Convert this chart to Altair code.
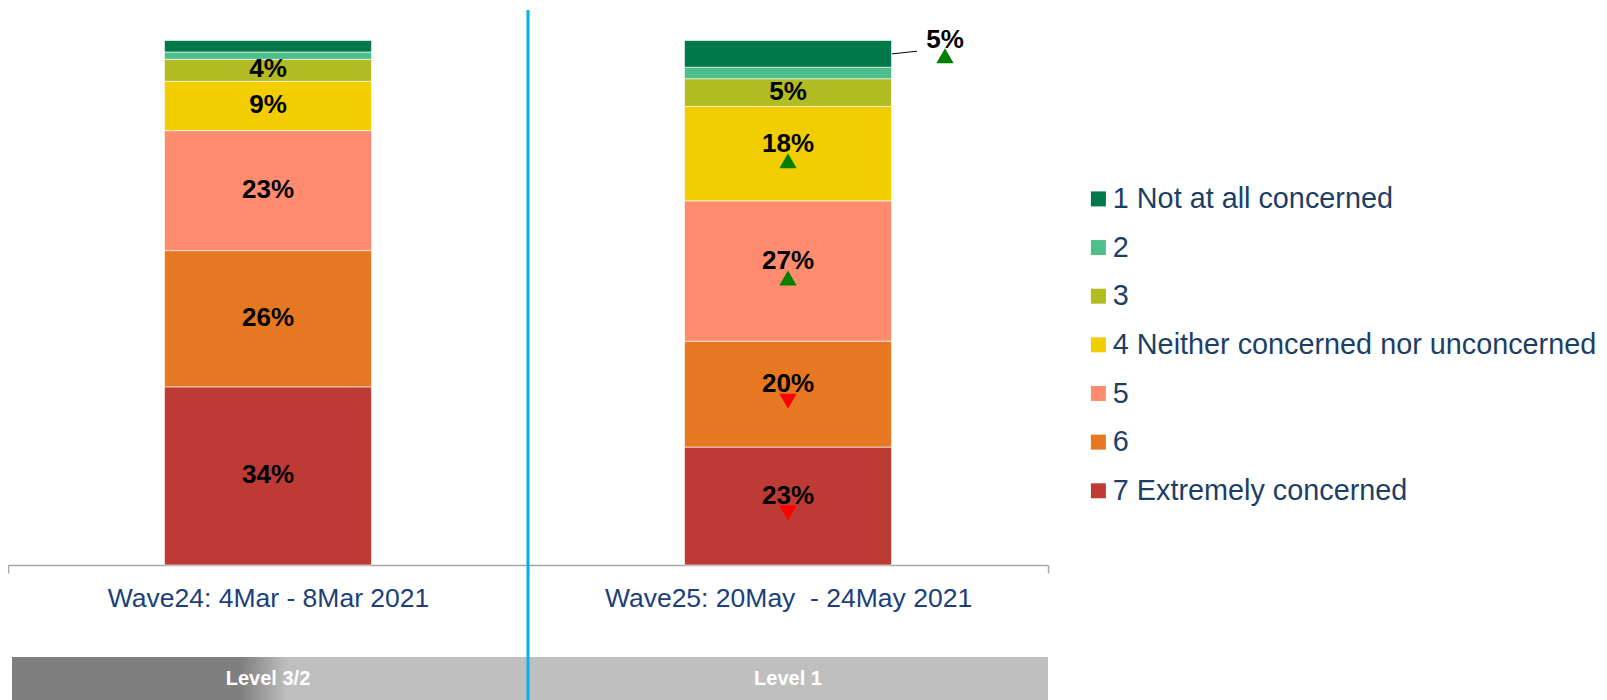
import altair as alt
import pandas as pd

# ---- data ----
waves = ["Wave24: 4Mar - 8Mar 2021", "Wave25: 20May\u00a0 - 24May 2021"]
levels = ["Level 3/2", "Level 1"]
categories = [
    "1 Not at all concerned",
    "2",
    "3",
    "4 Neither concerned nor unconcerned",
    "5",
    "6",
    "7 Extremely concerned",
]
colors = ["#00784A", "#4CBF8B", "#B0BC22", "#F2CD00", "#FF8C6E", "#E87722", "#BE3A35"]
wave24_values = [2.2, 1.4, 4.2, 9.4, 22.9, 26, 34]
wave25_values = [5.1, 2.2, 5.3, 18, 26.8, 20.2, 22.5]
wave24_labels = ["", "", "4%", "9%", "23%", "26%", "34%"]
wave25_labels = ["5%", "", "5%", "18%", "27%", "20%", "23%"]
wave24_change = ["", "", "", "", "", "", ""]
wave25_change = ["up", "", "", "up", "up", "down", "down"]

# ---- build table (stack bottom-up: 7 at the bottom) ----
rows = []
for wave, vals, labs, chg in [
    (waves[0], wave24_values, wave24_labels, wave24_change),
    (waves[1], wave25_values, wave25_labels, wave25_change),
]:
    base = 0.0
    for i in reversed(range(len(categories))):
        y0 = base
        y1 = base + vals[i]
        rows.append(
            dict(wave=wave, cat=categories[i], code=i + 1, value=vals[i],
                 y0=y0, y1=y1, mid=(y0 + y1) / 2, label=labs[i], change=chg[i])
        )
        base = y1
df = pd.DataFrame(rows)
lvl = pd.DataFrame({"wave": waves, "level": levels})

FONT = "Liberation Sans"
xscale = alt.Scale(domain=waves, paddingInner=0, paddingOuter=0)
yscale = alt.Scale(domain=[0, 106.3], nice=False)

xaxis = alt.Axis(labelFontSize=26.5, labelColor="#203F79", labelFont=FONT,
                 labelAngle=0, domainColor="#A6A6A6", tickColor="#A6A6A6",
                 domainWidth=1.5, tickWidth=1.5, tickSize=8,
                 tickBand="extent", labelPadding=12, labelLimit=600,
                 grid=False)
X = alt.X("wave:N", scale=xscale, title=None, axis=xaxis)
Y = lambda f: alt.Y(f, scale=yscale, axis=None)

base = alt.Chart(df)

bars = base.mark_bar(size=207, stroke="white", strokeWidth=0.6).encode(
    x=X,
    y=Y("y0:Q"),
    y2="y1:Q",
    color=alt.Color(
        "cat:N",
        scale=alt.Scale(domain=categories, range=colors),
        legend=alt.Legend(title=None, orient="none", legendX=1076, legendY=176.5,
                          symbolType="square", symbolSize=225, symbolStrokeWidth=0,
                          labelFontSize=28.8, labelColor="#1D3F66", labelFont=FONT,
                          rowPadding=18.65, labelOffset=0, padding=0, labelLimit=700),
    ),
)

txt_style = dict(fontSize=26, fontWeight="bold", font=FONT, color="black", baseline="middle")

plain_labels = base.transform_filter(
    "datum.label != '' && datum.code != 1 && datum.change == ''"
).mark_text(dy=-1, **txt_style).encode(x=X, y=Y("mid:Q"), text="label:N")

change_labels = base.transform_filter(
    "datum.label != '' && datum.code != 1 && datum.change != ''"
).mark_text(dy=-10, **txt_style).encode(x=X, y=Y("mid:Q"), text="label:N")

tri_fill = alt.condition("datum.change == 'up'", alt.value("#008000"), alt.value("#FF0000"))
tri_shape = alt.condition("datum.change == 'up'", alt.value("triangle-up"), alt.value("triangle-down"))

change_marks = base.transform_filter(
    "datum.change != '' && datum.code != 1"
).mark_point(filled=True, size=300, opacity=1, yOffset=7).encode(
    x=X, y=Y("mid:Q"), fill=tri_fill, shape=tri_shape)

out_label = base.transform_filter(
    "datum.label != '' && datum.code == 1"
).mark_text(dx=157, dy=-14, **txt_style).encode(x=X, y=Y("mid:Q"), text="label:N")

out_mark = base.transform_filter(
    "datum.change != '' && datum.code == 1"
).mark_point(filled=True, size=300, opacity=1, xOffset=157, yOffset=2).encode(
    x=X, y=Y("mid:Q"), fill=tri_fill, shape=tri_shape)

leader = base.transform_filter(
    "datum.label != '' && datum.code == 1"
).mark_rule(color="black", strokeWidth=1, xOffset=104, x2Offset=129, y2Offset=-2.6).encode(
    x=X, x2="wave:N", y=Y("mid:Q"), y2="mid:Q")

lbase = alt.Chart(lvl)

band_left = lbase.transform_filter(alt.datum.wave == waves[0]).mark_rect(
    xOffset=4,
    fill=alt.Gradient(gradient="linear", x1=0, x2=1, y1=0, y2=0,
                      stops=[alt.GradientStop(color="#7F7F7F", offset=0),
                             alt.GradientStop(color="#7F7F7F", offset=0.44),
                             alt.GradientStop(color="#BFBFBF", offset=0.53),
                             alt.GradientStop(color="#BFBFBF", offset=1)])
).encode(x=X, y=alt.value(649), y2=alt.value(695))

band_right = lbase.transform_filter(alt.datum.wave == waves[1]).mark_rect(
    fill="#BFBFBF", x2Offset=-5).encode(x=X, y=alt.value(649), y2=alt.value(695))

level_text = lbase.mark_text(color="white", fontSize=20, fontWeight="bold", font=FONT,
                             baseline="middle").encode(
    x=X, y=alt.value(670.5), text="level:N")

divider = lbase.transform_filter(alt.datum.wave == waves[1]).mark_rule(
    color="#00B0F0", strokeWidth=3).encode(
    x=alt.X("wave:N", scale=xscale, bandPosition=0, title=None, axis=xaxis),
    y=alt.value(2), y2=alt.value(695))

chart = alt.layer(
    bars, band_left, band_right, level_text, plain_labels, change_labels,
    change_marks, leader, out_label, out_mark, divider
).properties(
    width=1040, height=557,
    background="white",
    autosize=alt.AutoSizeParams(type="none"),
    padding={"left": 0, "top": 0, "right": 551, "bottom": 135},
).configure_view(strokeWidth=0)

chart.save("out.html", embed_options={"renderer": "svg", "actions": False})
